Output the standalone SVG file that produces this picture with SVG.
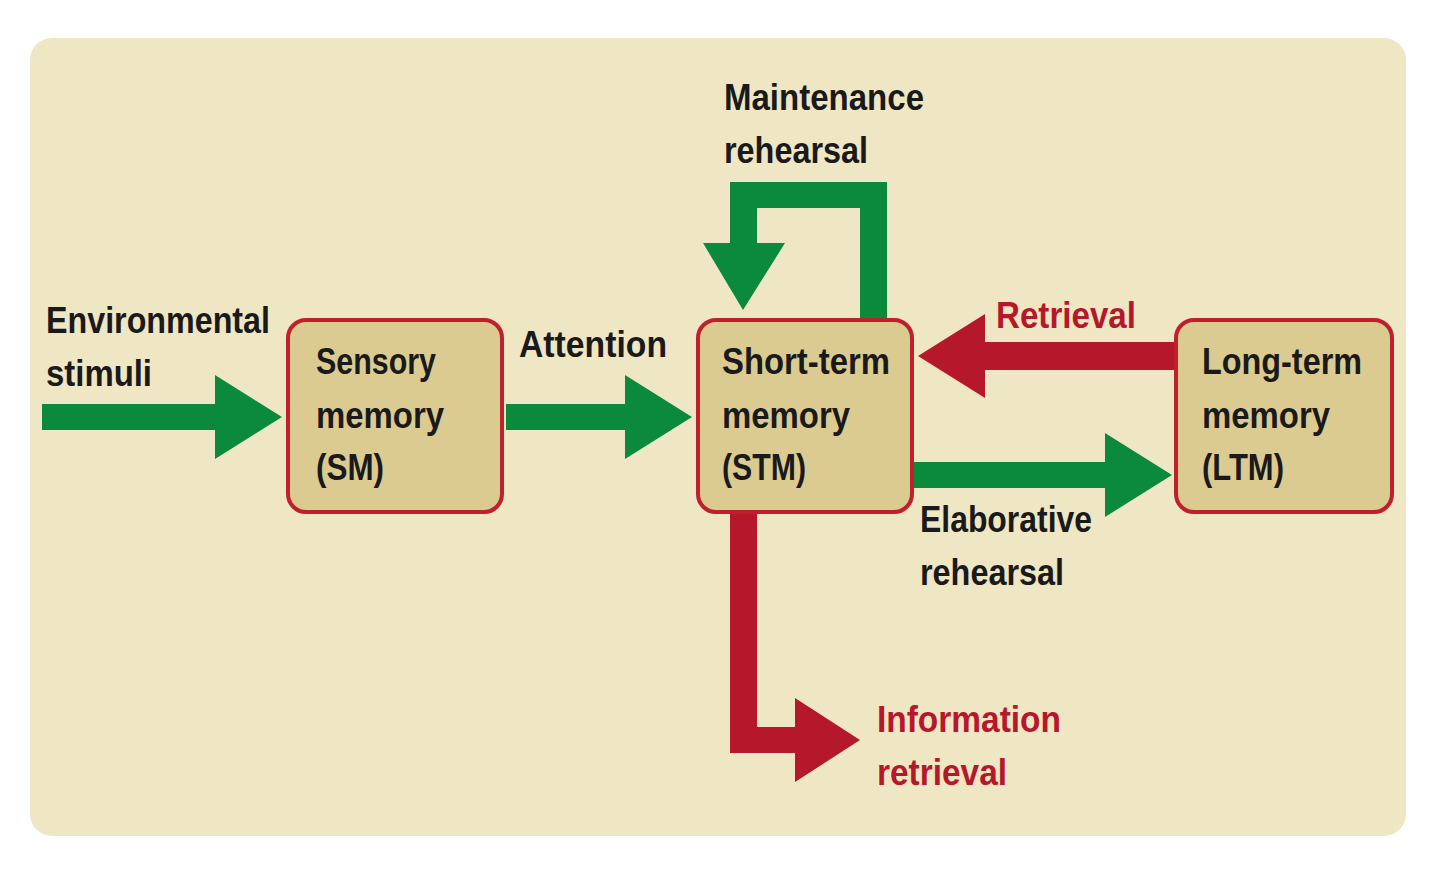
<svg xmlns="http://www.w3.org/2000/svg" width="1440" height="886" viewBox="0 0 1440 886">
<style>
.t{font-family:"Liberation Sans",Arial,sans-serif;font-weight:bold;font-size:36px;fill:#1a1a1a}
.r{fill:#b5182b}
.box{fill:#dccb91;stroke:#c0202c;stroke-width:4}
.g{fill:#0a8a3a}
.rd{fill:#b5182b}
</style>
<rect width="1440" height="886" fill="#fff"/>
<rect x="30" y="38" width="1376" height="798" rx="22" fill="#efe6c3"/>
<g id="connectors">
<polygon class="g" points="42,404 215,404 215,375 282,417 215,459 215,430 42,430"/>
<polygon class="g" points="506,404 625,404 625,375 692,417 625,459 625,430 506,430"/>
<polygon class="g" points="860,320 860,208 757,208 757,243 785,243 743,310 703,243 730,243 730,182 887,182 887,320"/>
<polygon class="rd" points="1176,342 985,342 985,314 918,356 985,398 985,370 1176,370"/>
<polygon class="g" points="912,462 1105,462 1105,433 1172,475 1105,517 1105,488 912,488"/>
<polygon class="rd" points="730,512 757,512 757,727 795,727 795,698 860,740 795,782 795,753 730,753"/>
</g>
<g id="sm"><rect class="box" x="288" y="320" width="214" height="192" rx="18"/>
<text class="t" x="316" y="374" textLength="120" lengthAdjust="spacingAndGlyphs">Sensory</text>
<text class="t" x="316" y="428" textLength="128" lengthAdjust="spacingAndGlyphs">memory</text>
<text class="t" x="316" y="480" textLength="68" lengthAdjust="spacingAndGlyphs">(SM)</text></g>
<g id="stm"><rect class="box" x="698" y="320" width="214" height="192" rx="18"/>
<text class="t" x="722" y="374" textLength="168" lengthAdjust="spacingAndGlyphs">Short-term</text>
<text class="t" x="722" y="428" textLength="128" lengthAdjust="spacingAndGlyphs">memory</text>
<text class="t" x="722" y="480" textLength="84" lengthAdjust="spacingAndGlyphs">(STM)</text></g>
<g id="ltm"><rect class="box" x="1176" y="320" width="216" height="192" rx="18"/>
<text class="t" x="1202" y="374" textLength="160" lengthAdjust="spacingAndGlyphs">Long-term</text>
<text class="t" x="1202" y="428" textLength="128" lengthAdjust="spacingAndGlyphs">memory</text>
<text class="t" x="1202" y="480" textLength="82" lengthAdjust="spacingAndGlyphs">(LTM)</text></g>
<g id="labels">
<text class="t" x="46" y="333" textLength="224" lengthAdjust="spacingAndGlyphs">Environmental</text>
<text class="t" x="46" y="386" textLength="106" lengthAdjust="spacingAndGlyphs">stimuli</text>
<text class="t" x="519" y="357" textLength="148" lengthAdjust="spacingAndGlyphs">Attention</text>
<text class="t" x="724" y="110" textLength="200" lengthAdjust="spacingAndGlyphs">Maintenance</text>
<text class="t" x="724" y="163" textLength="144" lengthAdjust="spacingAndGlyphs">rehearsal</text>
<text class="t r" x="996" y="328" textLength="140" lengthAdjust="spacingAndGlyphs">Retrieval</text>
<text class="t" x="920" y="532" textLength="172" lengthAdjust="spacingAndGlyphs">Elaborative</text>
<text class="t" x="920" y="585" textLength="144" lengthAdjust="spacingAndGlyphs">rehearsal</text>
<text class="t r" x="877" y="732" textLength="184" lengthAdjust="spacingAndGlyphs">Information</text>
<text class="t r" x="877" y="785" textLength="130" lengthAdjust="spacingAndGlyphs">retrieval</text>
</g>
</svg>
